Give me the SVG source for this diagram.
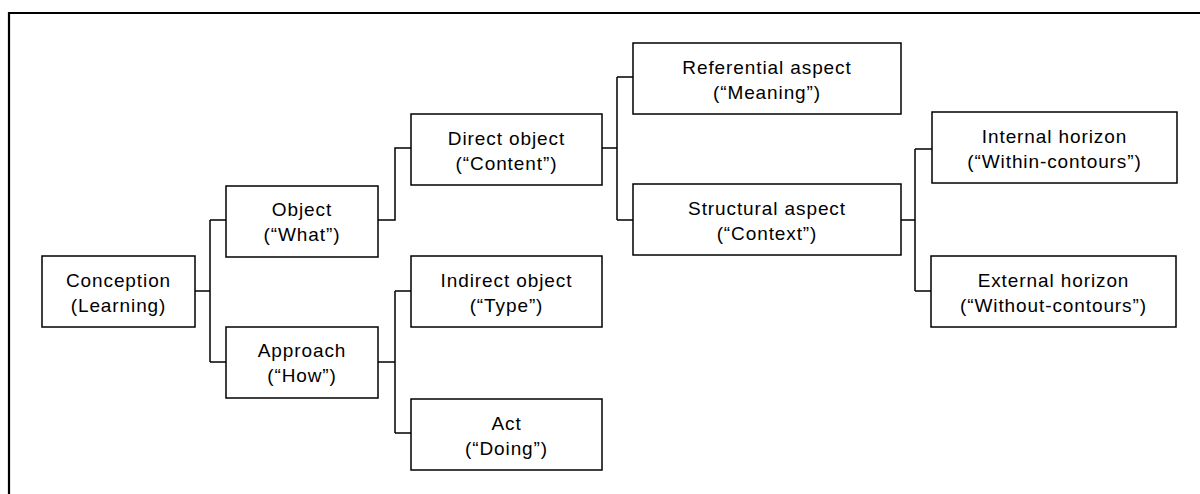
<svg xmlns="http://www.w3.org/2000/svg" width="1200" height="494" viewBox="0 0 1200 494">
<style>
.box{fill:#fff;stroke:#000;stroke-width:1.5}
.t{font-family:"Liberation Sans",Arial,sans-serif;font-size:19px;letter-spacing:0.9px;fill:#000;text-anchor:middle}
.c{fill:none;stroke:#000;stroke-width:1.5}
.frame{fill:none;stroke:#000;stroke-width:2.2}
</style>
<rect width="1200" height="494" fill="#fff"/>
<path class="frame" d="M9,494 V13 H1200"/>
<g id="connectors">
<path class="c" d="M195,291 H210 M210,220 V362 M210,220 H226 M210,362 H226"/>
<path class="c" d="M378,220 H395 V148 H411"/>
<path class="c" d="M378,362 H395 M395,291 V433 M395,291 H411 M395,433 H411"/>
<path class="c" d="M602,148 H617 M617,77 V220 M617,77 H633 M617,220 H633"/>
<path class="c" d="M901,220 H915 M915,149 V291 M915,149 H932 M915,291 H931"/>
</g>
<g id="conception"><rect class="box" x="42" y="256" width="153" height="71"/><text class="t" x="118.5" y="287">Conception</text><text class="t" x="118.5" y="312">(Learning)</text></g>
<g id="object"><rect class="box" x="226" y="186" width="152" height="71"/><text class="t" x="302" y="216">Object</text><text class="t" x="302" y="241">(“What”)</text></g>
<g id="approach"><rect class="box" x="226" y="327" width="152" height="71"/><text class="t" x="302" y="357">Approach</text><text class="t" x="302" y="382">(“How”)</text></g>
<g id="direct"><rect class="box" x="411" y="114" width="191" height="71"/><text class="t" x="506.5" y="145">Direct object</text><text class="t" x="506.5" y="170">(“Content”)</text></g>
<g id="indirect"><rect class="box" x="411" y="256" width="191" height="71"/><text class="t" x="506.5" y="287">Indirect object</text><text class="t" x="506.5" y="312">(“Type”)</text></g>
<g id="act"><rect class="box" x="411" y="399" width="191" height="71"/><text class="t" x="506.5" y="430">Act</text><text class="t" x="506.5" y="455">(“Doing”)</text></g>
<g id="referential"><rect class="box" x="633" y="43" width="268" height="71"/><text class="t" x="767" y="74">Referential aspect</text><text class="t" x="767" y="99">(“Meaning”)</text></g>
<g id="structural"><rect class="box" x="633" y="184" width="268" height="71"/><text class="t" x="767" y="215">Structural aspect</text><text class="t" x="767" y="240">(“Context”)</text></g>
<g id="internal"><rect class="box" x="932" y="112" width="245" height="71"/><text class="t" x="1054.5" y="143">Internal horizon</text><text class="t" x="1054.5" y="168">(“Within-contours”)</text></g>
<g id="external"><rect class="box" x="931" y="256" width="245" height="71"/><text class="t" x="1053.5" y="287">External horizon</text><text class="t" x="1053.5" y="312">(“Without-contours”)</text></g>
</svg>
